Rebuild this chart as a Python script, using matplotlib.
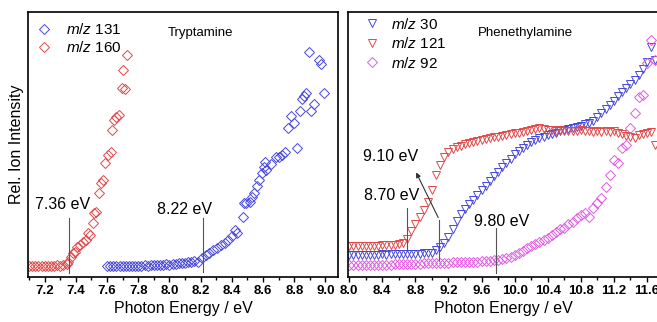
import matplotlib
matplotlib.use("Agg")
import matplotlib.pyplot as plt
from matplotlib.ticker import MultipleLocator, NullLocator

plt.rcParams['font.family'] = ['Liberation Sans', 'DejaVu Sans']
plt.rcParams['mathtext.fontset'] = 'custom'
plt.rcParams['mathtext.rm'] = 'Liberation Sans'
plt.rcParams['mathtext.it'] = 'Liberation Sans:italic'

blue = '#4646dc'
red = '#e04848'
pink = '#e05ae0'

# ---- Tryptamine data (rel. ion intensity, arbitrary units 0..1)
tryp_160_x = [7.10, 7.12, 7.14, 7.16, 7.18, 7.20, 7.22, 7.24, 7.26, 7.28, 7.30, 7.32, 7.34,
              7.35, 7.371, 7.382, 7.393, 7.404, 7.425, 7.446, 7.468, 7.478, 7.489, 7.51, 7.517,
              7.526, 7.547, 7.564, 7.575, 7.586, 7.603, 7.624, 7.633, 7.645, 7.66, 7.676,
              7.693, 7.703, 7.714, 7.725]
tryp_160_y = [0.042, 0.041, 0.043, 0.042, 0.040, 0.042, 0.043, 0.041, 0.042, 0.044, 0.043, 0.046, 0.048,
              0.058, 0.077, 0.089, 0.096, 0.114, 0.121, 0.133, 0.140, 0.165, 0.158, 0.205, 0.240,
              0.246, 0.316, 0.356, 0.366, 0.429, 0.460, 0.473, 0.555, 0.592, 0.605, 0.611,
              0.712, 0.781, 0.708, 0.838]

tryp_131_x = [7.60, 7.62, 7.64, 7.66, 7.68, 7.70, 7.72, 7.74, 7.76, 7.78, 7.80, 7.82, 7.84,
              7.86, 7.88, 7.90, 7.92, 7.94, 7.96, 7.98, 8.00, 8.02, 8.04, 8.06, 8.08, 8.10,
              8.12, 8.14, 8.16, 8.18, 8.207, 8.235, 8.256, 8.282, 8.303, 8.329, 8.357, 8.378,
              8.40, 8.421, 8.436, 8.47, 8.479, 8.492, 8.513, 8.528, 8.543, 8.56, 8.577, 8.593,
              8.603, 8.614, 8.62, 8.651, 8.685, 8.70, 8.721, 8.742, 8.757, 8.78, 8.797, 8.818,
              8.835, 8.85, 8.865, 8.877, 8.892, 8.908, 8.925, 8.957, 8.972, 8.993]
tryp_131_y = [0.040, 0.041, 0.040, 0.041, 0.041, 0.042, 0.041, 0.042, 0.042, 0.043, 0.042, 0.043, 0.044,
              0.043, 0.044, 0.045, 0.045, 0.046, 0.046, 0.048, 0.047, 0.049, 0.050, 0.051, 0.052, 0.053,
              0.055, 0.056, 0.060, 0.058, 0.070, 0.083, 0.089, 0.102, 0.108, 0.121, 0.127, 0.140,
              0.155, 0.177, 0.165, 0.228, 0.281, 0.281, 0.284, 0.303, 0.318, 0.343, 0.366, 0.391,
              0.416, 0.435, 0.404, 0.426, 0.454, 0.454, 0.460, 0.473, 0.561, 0.608, 0.582, 0.486,
              0.628, 0.670, 0.683, 0.696, 0.850, 0.628, 0.653, 0.819, 0.804, 0.696]

# ---- Phenethylamine data
phen_x = [8.00, 8.05, 8.10, 8.15, 8.20, 8.25, 8.30, 8.35, 8.40, 8.45, 8.50, 8.55, 8.60, 8.65,
          8.70, 8.75, 8.80, 8.85, 8.90, 8.95, 9.00, 9.05, 9.10, 9.15, 9.20, 9.25, 9.30, 9.35,
          9.40, 9.45, 9.50, 9.55, 9.60, 9.65, 9.70, 9.75, 9.80, 9.85, 9.90, 9.95, 10.00, 10.05,
          10.10, 10.15, 10.20, 10.25, 10.30, 10.35, 10.40, 10.45, 10.50, 10.55, 10.60, 10.65,
          10.70, 10.75, 10.80, 10.85, 10.90, 10.95, 11.00, 11.05, 11.10, 11.15, 11.20, 11.25,
          11.30, 11.35, 11.40, 11.45, 11.50, 11.55, 11.60, 11.65, 11.70]
phen_121_y = [0.117, 0.117, 0.118, 0.117, 0.118, 0.117, 0.118, 0.118, 0.119, 0.119, 0.120, 0.122, 0.125, 0.130,
              0.143, 0.174, 0.200, 0.226, 0.253, 0.283, 0.328, 0.385, 0.423, 0.453, 0.472, 0.483, 0.491, 0.496,
              0.502, 0.505, 0.509, 0.512, 0.517, 0.520, 0.525, 0.528, 0.530, 0.533, 0.536, 0.539, 0.542, 0.545,
              0.547, 0.551, 0.555, 0.560, 0.562, 0.560, 0.556, 0.553, 0.551, 0.553, 0.551, 0.549,
              0.550, 0.552, 0.555, 0.551, 0.549, 0.547, 0.549, 0.546, 0.550, 0.548, 0.549, 0.545,
              0.540, 0.532, 0.527, 0.523, 0.535, 0.540, 0.543, 0.548, 0.498]
phen_30_y = [0.083, 0.083, 0.084, 0.083, 0.084, 0.084, 0.083, 0.084, 0.085, 0.084, 0.085, 0.085, 0.086, 0.086,
             0.087, 0.087, 0.088, 0.088, 0.089, 0.090, 0.092, 0.100, 0.112, 0.128, 0.150, 0.180, 0.210, 0.236,
             0.256, 0.274, 0.292, 0.309, 0.327, 0.345, 0.363, 0.381, 0.398, 0.415, 0.430, 0.447, 0.463, 0.476,
             0.488, 0.499, 0.508, 0.516, 0.523, 0.529, 0.535, 0.540, 0.545, 0.550, 0.555, 0.559,
             0.563, 0.567, 0.571, 0.576, 0.582, 0.590, 0.603, 0.617, 0.634, 0.650, 0.665, 0.682,
             0.697, 0.712, 0.728, 0.743, 0.763, 0.785, 0.812, 0.869, 0.819]
phen_92_y = [0.045, 0.045, 0.046, 0.045, 0.046, 0.046, 0.046, 0.047, 0.046, 0.047, 0.047, 0.048, 0.048, 0.048,
             0.049, 0.049, 0.050, 0.050, 0.051, 0.051, 0.052, 0.052, 0.053, 0.054, 0.054, 0.055, 0.055, 0.056,
             0.056, 0.057, 0.058, 0.058, 0.059, 0.060, 0.062, 0.063, 0.064, 0.068, 0.072, 0.076, 0.082, 0.090,
             0.098, 0.108, 0.116, 0.125, 0.133, 0.140, 0.148, 0.157, 0.168, 0.180, 0.186, 0.200,
             0.209, 0.222, 0.234, 0.240, 0.228, 0.259, 0.278, 0.297, 0.341, 0.385, 0.442, 0.431,
             0.486, 0.498, 0.561, 0.618, 0.680, 0.687, 0.806, 0.894, 0.819]

# onset energies: (x, line bottom, line top, label x, label y, text)
tryp_onsets = [(7.355, 0.015, 0.223, 7.316, 0.272, '7.36 eV'),
               (8.217, 0.019, 0.223, 8.097, 0.253, '8.22 eV')]
phen_onsets = [(8.694, 0.098, 0.260, 8.516, 0.309, '8.70 eV'),
               (9.09, 0.064, 0.215, 8.50, 0.453, '9.10 eV'),
               (9.775, 0.015, 0.185, 9.846, 0.208, '9.80 eV')]

fig = plt.figure(figsize=(6.57, 3.22), dpi=100)
ax1 = fig.add_axes([0.0426, 0.1398, 0.4718, 0.823])
ax2 = fig.add_axes([0.5297, 0.1398, 0.4928, 0.823])

ms = 4.8
mew = 0.7
ax1.plot(tryp_131_x, tryp_131_y, 'D', ms=ms, mfc='none', mec=blue, mew=mew, label='$m/z$ 131')
ax1.plot(tryp_160_x, tryp_160_y, 'D', ms=ms, mfc='none', mec=red, mew=mew, label='$m/z$ 160')

ax2.plot(phen_x, phen_30_y, 'v', ms=5.8, mfc='none', mec=blue, mew=mew, label='$m/z$ 30')
ax2.plot(phen_x, phen_121_y, 'v', ms=5.8, mfc='none', mec=red, mew=mew, label='$m/z$ 121')
ax2.plot(phen_x, phen_92_y, 'D', ms=ms, mfc='none', mec=pink, mew=mew, label='$m/z$ 92')

for ax, onsets in ((ax1, tryp_onsets), (ax2, phen_onsets)):
    for x, y0, y1, tx, ty, t in onsets:
        ax.plot([x, x], [y0, y1], color='#555555', lw=0.8)
        ax.text(tx, ty, t, fontsize=11.5, ha='center', va='center')

ax2.annotate('', xy=(8.794, 0.404), xytext=(9.09, 0.215),
             arrowprops=dict(arrowstyle='-|>', color='#333333', lw=0.8, mutation_scale=7))

ax1.text(8.196, 0.921, 'Tryptamine', fontsize=9.5, ha='center', va='center')
ax2.text(10.125, 0.921, 'Phenethylamine', fontsize=9.5, ha='center', va='center')

ax1.set_xlim(7.093, 9.08)
ax2.set_xlim(7.985, 11.9)
ax1.xaxis.set_major_locator(MultipleLocator(0.2))
ax1.xaxis.set_minor_locator(MultipleLocator(0.1))
ax2.xaxis.set_major_locator(MultipleLocator(0.4))
ax2.xaxis.set_minor_locator(MultipleLocator(0.2))
for ax in (ax1, ax2):
    ax.set_ylim(0, 1)
    ax.yaxis.set_major_locator(NullLocator())
    ax.tick_params(axis='x', which='major', direction='out', length=3.5, width=1, pad=2.5,
                   labelsize=9.5)
    ax.tick_params(axis='x', which='minor', direction='out', length=2, width=1)
    for lab in ax.get_xticklabels():
        lab.set_fontweight('bold')
    for s in ax.spines.values():
        s.set_linewidth(1.2)
    ax.set_xlabel('Photon Energy / eV', fontsize=11.5)
ax1.xaxis.set_label_coords(0.5, -0.09)
ax2.xaxis.set_label_coords(0.479, -0.09)
ax1.set_ylabel('Rel. Ion Intensity', fontsize=11.5, labelpad=3)

ax1.legend(loc='upper left', bbox_to_anchor=(0.013, 0.98), frameon=False, fontsize=11,
           handlelength=1.0, handletextpad=0.95, labelspacing=0.2, borderaxespad=0.2, borderpad=0.1)
ax2.legend(loc='upper left', bbox_to_anchor=(0.037, 1.0), frameon=False, fontsize=11,
           handlelength=1.0, handletextpad=0.75, labelspacing=0.3, borderaxespad=0.2, borderpad=0.1)

fig.savefig('out.png', dpi=100)
